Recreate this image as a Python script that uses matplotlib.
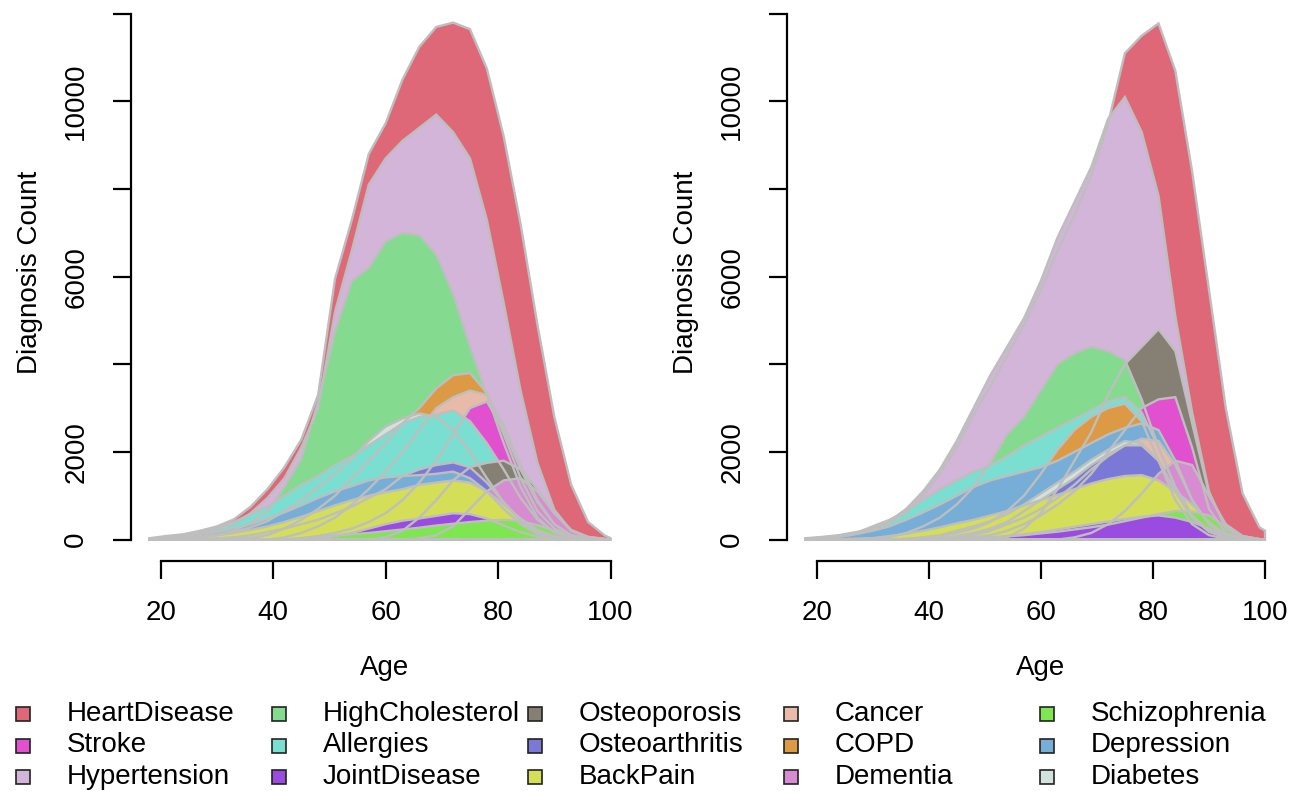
import matplotlib
matplotlib.use("Agg")
import matplotlib.pyplot as plt
from matplotlib.patches import Rectangle
import numpy as np

plt.rcParams['font.family'] = ['Liberation Sans', 'DejaVu Sans']

ages = [18, 21, 24, 27, 30, 33, 36, 39, 42, 45, 48, 51, 54, 57, 60,
        63, 66, 69, 72, 75, 78, 81, 84, 87, 90, 93, 96, 99, 100]

# legend order (column-wise)
names = ['HeartDisease', 'Stroke', 'Hypertension',
         'HighCholesterol', 'Allergies', 'JointDisease',
         'Osteoporosis', 'Osteoarthritis', 'BackPain',
         'Cancer', 'COPD', 'Dementia',
         'Schizophrenia', 'Depression', 'Diabetes']
colors = ['#DF6878', '#E050CF', '#D3B5D9',
          '#84DB8F', '#7ADFD0', '#9A4BE0',
          '#857F74', '#7A7AD6', '#D4DE57',
          '#E8BBA8', '#DC9A45', '#D78BD0',
          '#7EE650', '#76AED8', '#D0E3DC']

# order in which the areas are painted (later ones cover earlier ones)
left_order = ['HeartDisease', 'Hypertension', 'HighCholesterol', 'COPD', 'Cancer',
              'Stroke', 'Diabetes', 'Allergies', 'Osteoporosis', 'Osteoarthritis',
              'Depression', 'Dementia', 'BackPain', 'JointDisease', 'Schizophrenia']
right_order = ['HeartDisease', 'Hypertension', 'Osteoporosis', 'HighCholesterol', 'Stroke',
               'Allergies', 'COPD', 'Depression', 'Cancer', 'Diabetes',
               'Osteoarthritis', 'Dementia', 'BackPain', 'Schizophrenia', 'JointDisease']

# left panel
L_HeartDisease = [30, 80, 120, 200, 300, 460, 750, 1150, 1650, 2280, 3300, 5950, 7300, 8800, 9500,
                  10500, 11250, 11700, 11800, 11650, 10750, 9200, 7200, 4900, 2800, 1250, 400, 90, 30]
L_Hypertension = [20, 50, 90, 150, 230, 360, 600, 950, 1400, 2100, 3000, 5200, 6600, 8100, 8700,
                  9100, 9400, 9700, 9300, 8700, 7300, 5400, 3400, 1750, 680, 200, 60, 15, 5]
L_HighCholesterol = [0, 10, 30, 60, 110, 200, 380, 650, 1200, 1850, 3150, 4750, 5900, 6200, 6800,
                     7000, 6950, 6500, 5600, 4400, 3300, 2200, 1200, 500, 150, 40, 10, 0, 0]
L_Allergies = [20, 50, 100, 180, 280, 400, 580, 760, 1000, 1250, 1450, 1700, 1900, 2150, 2400,
               2650, 2800, 2850, 2950, 2700, 2200, 1600, 950, 450, 170, 50, 10, 0, 0]
L_Diabetes = [0, 10, 30, 60, 100, 170, 280, 420, 650, 900, 1200, 1500, 1850, 2250, 2580,
              2760, 2880, 2800, 2500, 2000, 1400, 850, 420, 170, 60, 15, 0, 0, 0]
L_COPD = [0, 0, 0, 0, 0, 10, 40, 100, 250, 450, 700, 1000, 1400, 1800, 2200,
          2650, 3000, 3450, 3750, 3800, 3350, 2400, 1400, 650, 250, 80, 20, 0, 0]
L_Cancer = [0, 0, 0, 0, 0, 0, 0, 0, 50, 150, 300, 500, 800, 1150, 1550,
            2000, 2500, 3000, 3250, 3400, 3300, 2600, 1700, 900, 350, 100, 20, 0, 0]
L_Stroke = [0, 0, 0, 0, 0, 0, 0, 0, 0, 30, 80, 150, 250, 400, 600,
            900, 1300, 1800, 2400, 3000, 3150, 2500, 1600, 850, 350, 100, 20, 0, 0]
L_Osteoarthritis = [0, 0, 0, 0, 30, 50, 100, 170, 250, 350, 450, 600, 750, 950, 1150,
                    1450, 1600, 1700, 1760, 1650, 1300, 850, 450, 180, 60, 15, 0, 0, 0]
L_Osteoporosis = [0, 0, 0, 0, 0, 0, 0, 0, 0, 0, 0, 0, 0, 0, 50,
                  200, 500, 900, 1350, 1650, 1750, 1800, 1600, 1150, 600, 200, 50, 10, 0]
L_Depression = [0, 20, 50, 100, 170, 250, 350, 480, 620, 780, 950, 1100, 1220, 1350, 1420,
                1450, 1470, 1500, 1550, 1400, 1100, 700, 350, 130, 40, 10, 0, 0, 0]
L_Dementia = [0, 0, 0, 0, 0, 0, 0, 0, 0, 0, 0, 0, 0, 0, 0,
              0, 30, 100, 300, 700, 1100, 1350, 1400, 1100, 600, 220, 60, 10, 0]
L_BackPain = [0, 0, 30, 60, 100, 150, 220, 300, 400, 520, 650, 780, 900, 1000, 1080,
              1150, 1250, 1300, 1350, 1300, 1100, 800, 480, 220, 80, 20, 0, 0, 0]
L_JointDisease = [0, 0, 0, 0, 0, 0, 0, 0, 0, 0, 30, 80, 150, 250, 350,
                  430, 480, 540, 600, 580, 480, 320, 170, 70, 20, 0, 0, 0, 0]
L_Schizophrenia = [0, 0, 0, 0, 0, 0, 0, 0, 0, 30, 60, 90, 120, 150, 190,
                   230, 270, 320, 360, 400, 430, 450, 420, 330, 200, 90, 25, 5, 0]

# right panel
R_HeartDisease = [30, 60, 100, 170, 230, 380, 620, 1000, 1500, 2100, 2850, 3500, 4200, 4900, 5700,
                  6600, 7400, 8300, 9500, 11100, 11500, 11780, 10700, 8400, 5700, 3000, 1050, 280, 200]
R_Hypertension = [20, 40, 80, 150, 250, 420, 700, 1100, 1600, 2250, 3000, 3750, 4400, 5050, 5900,
                  6900, 7700, 8500, 9600, 10100, 9300, 7850, 5100, 2900, 1100, 250, 40, 5, 0]
R_HighCholesterol = [0, 0, 10, 20, 30, 60, 150, 300, 500, 800, 1200, 1750, 2400, 2800, 3400,
                     4000, 4250, 4400, 4300, 4100, 3200, 2100, 1200, 550, 200, 50, 10, 0, 0]
R_Osteoporosis = [0, 0, 0, 0, 0, 0, 0, 0, 0, 0, 0, 0, 50, 250, 600,
                  1150, 1800, 2450, 3300, 4000, 4400, 4800, 4300, 2650, 1050, 300, 70, 10, 0]
R_Allergies = [20, 40, 80, 150, 300, 450, 650, 900, 1150, 1350, 1550, 1700, 1900, 2150, 2350,
               2550, 2750, 2950, 3150, 3250, 2900, 2100, 1200, 550, 200, 50, 10, 0, 0]
R_COPD = [0, 0, 0, 0, 0, 0, 0, 30, 80, 150, 250, 400, 650, 1000, 1500,
          2050, 2500, 2800, 3000, 3100, 2700, 1800, 900, 350, 100, 20, 0, 0, 0]
R_Depression = [10, 30, 60, 120, 200, 300, 450, 620, 800, 1000, 1200, 1350, 1450, 1550, 1650,
                1800, 2000, 2200, 2400, 2550, 2650, 2500, 1800, 900, 350, 100, 20, 0, 0]
R_Diabetes = [0, 0, 0, 0, 0, 0, 20, 50, 100, 200, 300, 420, 580, 800, 1050,
              1300, 1550, 1820, 2050, 2250, 2200, 1800, 1100, 500, 180, 50, 10, 0, 0]
R_Osteoarthritis = [0, 0, 0, 0, 0, 0, 0, 0, 30, 80, 150, 250, 400, 650, 900,
                    1150, 1400, 1700, 1950, 2150, 2150, 1800, 1100, 500, 180, 50, 10, 0, 0]
R_Cancer = [0, 0, 0, 0, 0, 0, 0, 0, 0, 50, 100, 200, 350, 500, 700,
            950, 1250, 1600, 1900, 2150, 2300, 2250, 1700, 900, 350, 100, 20, 0, 0]
R_Stroke = [0, 0, 0, 0, 0, 0, 0, 0, 0, 0, 50, 100, 200, 350, 550,
            800, 1100, 1500, 2000, 2500, 3000, 3200, 3250, 2100, 700, 150, 30, 5, 0]
R_BackPain = [0, 0, 0, 0, 30, 80, 130, 200, 280, 370, 450, 550, 650, 780, 900,
              1020, 1150, 1280, 1380, 1450, 1470, 1350, 1100, 800, 400, 120, 20, 0, 0]
R_Dementia = [0, 0, 0, 0, 0, 0, 0, 0, 0, 0, 0, 0, 0, 0, 0,
              0, 50, 150, 350, 650, 1050, 1500, 1800, 1700, 1000, 350, 80, 10, 0]
R_Schizophrenia = [0, 0, 0, 0, 0, 0, 0, 0, 0, 0, 20, 40, 70, 100, 140,
                   180, 230, 280, 340, 420, 500, 580, 650, 640, 550, 300, 80, 10, 0]
R_JointDisease = [0, 0, 0, 0, 0, 0, 0, 0, 0, 0, 20, 50, 80, 120, 170,
                  230, 290, 350, 410, 470, 520, 550, 500, 400, 250, 100, 20, 0, 0]

left = [L_HeartDisease, L_Stroke, L_Hypertension, L_HighCholesterol, L_Allergies,
        L_JointDisease, L_Osteoporosis, L_Osteoarthritis, L_BackPain, L_Cancer,
        L_COPD, L_Dementia, L_Schizophrenia, L_Depression, L_Diabetes]
right = [R_HeartDisease, R_Stroke, R_Hypertension, R_HighCholesterol, R_Allergies,
         R_JointDisease, R_Osteoporosis, R_Osteoarthritis, R_BackPain, R_Cancer,
         R_COPD, R_Dementia, R_Schizophrenia, R_Depression, R_Diabetes]

W, H = 1305, 791
fig = plt.figure(figsize=(W / 100, H / 100), dpi=100)

FS = 20
edge = '#BEBEBE'


def draw_panel(ax, series, order):
    x = np.array(ages, dtype=float)
    px = np.concatenate([x, [x[-1], x[0]]])
    idx = [names.index(n) for n in order]
    for i in idx:
        py = np.concatenate([series[i], [0, 0]])
        ax.fill(px, py, facecolor=colors[i], edgecolor='none', zorder=2)
    for i in idx:
        py = np.concatenate([series[i], [0, 0]])
        ax.fill(px, py, facecolor='none', edgecolor=edge, lw=1.7, zorder=3)

    ax.set_xlim(14.72, 103.28)
    ax.set_ylim(-490, 12740)
    for s in ['top', 'right']:
        ax.spines[s].set_visible(False)
    ax.spines['left'].set_bounds(0, 12000)
    ax.spines['bottom'].set_bounds(20, 100)
    for s in ['left', 'bottom']:
        ax.spines[s].set_linewidth(1.6)
    ax.set_xticks([20, 40, 60, 80, 100])
    ax.set_yticks(range(0, 12001, 2000))
    ax.set_yticklabels(['0', '2000', '', '6000', '', '10000', ''], rotation=90, va='center')
    ax.tick_params(direction='out', length=13, width=1.6, labelsize=FS)
    ax.tick_params(axis='x', pad=15)
    ax.tick_params(axis='y', pad=17)
    ax.patch.set_alpha(0)


axL = fig.add_axes([131 / W, 1 - 561 / H, (629 - 131) / W, (561 + 18.6) / H])
axR = fig.add_axes([787 / W, 1 - 561 / H, (1283.4 - 787) / W, (561 + 18.6) / H])
draw_panel(axL, left, left_order)
draw_panel(axR, right, right_order)

for cx in [385, 1041]:
    fig.text(cx / W, 1 - 668 / H, 'Age', ha='center', va='center', fontsize=FS)
for cx in [30, 686]:
    fig.text(cx / W, 1 - 272 / H, 'Diagnosis Count', ha='center', va='center',
             rotation=90, fontsize=FS)

# legend, filled column by column
for k, (name, col) in enumerate(zip(names, colors)):
    c, r = divmod(k, 3)
    x0 = 16 + c * 256
    yc = 714 + r * 31.5
    fig.add_artist(Rectangle((x0 / W, 1 - (yc + 7) / H), 14 / W, 14 / H,
                             transform=fig.transFigure, facecolor=col,
                             edgecolor='#222222', lw=1.2))
    fig.text((x0 + 51) / W, 1 - yc / H, name, ha='left', va='center', fontsize=FS)

fig.savefig('out.png', dpi=100)
